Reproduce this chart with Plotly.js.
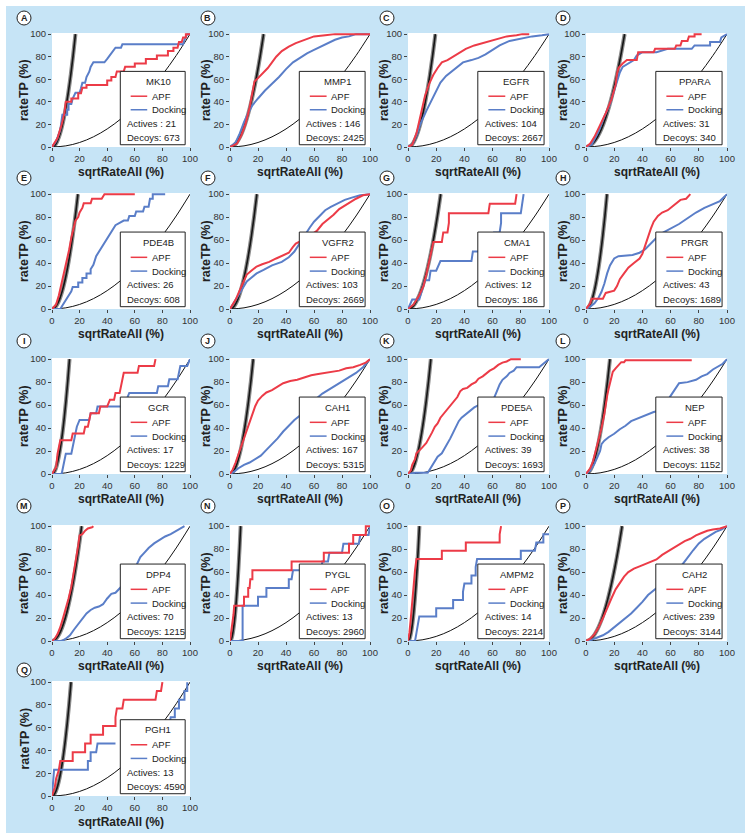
<!DOCTYPE html>
<html><head><meta charset="utf-8">
<script src="https://cdn.plot.ly/plotly-3.0.1.min.js"></script>
<style>html,body{margin:0;padding:0;background:#fff}#chart{width:751px;height:839px}</style>
</head><body><div id="chart"></div>
<script>
// ---------- data ----------
const letters = ['A','B','C','D','E','F','G','H','I','J','K','L','M','N','O','P','Q'];
const targets = ['MK10','MMP1','EGFR','PPARA','PDE4B','VGFR2','CMA1','PRGR','GCR','CAH1','PDE5A','NEP','DPP4','PYGL','AMPM2','CAH2','PGH1'];
const actives = [21,146,104,31,26,103,12,43,17,167,39,38,70,13,14,239,13];
const decoys = [673,2425,2667,340,608,2669,186,1689,1229,5315,1693,1152,1215,2960,2214,3144,4590];
const activesPrefix = ['Actives : ','Actives : ','Actives: ','Actives: ','Actives: ','Actives: ','Actives: ','Actives: ','Actives: ','Actives: ','Actives: ','Actives: ','Actives: ','Actives: ','Actives: ','Actives: ','Actives: '];
const xTicks = [0,20,40,60,80,100];
const yTicks = [0,20,40,60,80,100];
// x where the ideal (thick black) curve reaches 100 %
const idealEnd = [17,24,19.4,27.4,18.8,19.2,23.2,14.9,12.7,16.6,16.2,17,21.5,7.6,8.1,25.6,13.8];
const idealProfileX = [0,0.1,0.2,0.3,0.4,0.5,0.6,0.7,0.8,0.9,1];
const idealProfileY = [0,1,4,9,16,25,36,49,64,81,100];
const randX = [0,10,20,30,40,50,60,70,80,90,100];
const randY = [0,1,4,9,16,25,36,49,64,81,100];

const apfA = [[0,0],[4,8],[7,20],[9,30],[10,40],[14,40],[14,43],[19,43],[19,47.6],[21,47.6],[22,52.4],[25,52.4],[25,55],[40,55],[40,59],[43,59],[43,62],[46,62],[47,67],[52,67],[53,71],[60,71],[60,74],[68,74],[68,78],[76,78],[76,81],[84,81],[84,85],[88,85],[88,88],[91,88],[92,93],[94,93],[95,97],[97,97],[97,100],[100,100]];
const dockA = [[0,0],[3,5],[6,15],[7,25],[7.5,28.6],[11,28.6],[11,33],[12,33],[12,38],[14,38],[15,43],[17,48],[20,48],[21,52],[22,57],[24,57],[25,62],[27,66.7],[28,71],[30,75],[38,75],[40,78],[42,81],[44,85],[46,88],[50,88],[51,91],[95,91],[96,95],[98,100],[100,100]];
const apfB = [[0,0],[5,3],[8,10],[11,20],[14,35],[16,48],[17.5,58],[20,61],[23,65],[27,70],[30,75],[33,80],[37,85],[42,89],[47,92],[53,95],[60,98],[68,99],[75,100],[100,100]];
const dockB = [[0,0],[4,4],[7,12],[10,22],[13,30],[16,37],[20,43],[25,50],[30,56],[35,62],[40,69],[45,75],[50,79],[55,83],[60,86],[65,89],[70,92],[75,95],[80,97],[85,98],[90,100],[100,100]];
const apfC = [[0,0],[3,2],[6,12],[9,28],[12,45],[15,56],[18,64],[21,70],[24,75],[28,77],[32,80],[36,83],[41,87],[47,90],[53,92],[58,94],[64,96],[70,98],[77,99],[81,100],[86,100]];
const dockC = [[0,0],[3,2],[6,10],[9,21],[13,32],[17,42],[20,50],[23,57],[27,63],[31,67],[35,71],[39,75],[45,77],[50,79],[55,82],[60,86],[65,90],[72,94],[80,96],[88,98],[95,99],[100,100]];
const apfD = [[0,0],[3,3],[6,9],[10,19],[14,30],[18,42],[21,55],[22,65],[23,70],[26,74],[29,77],[36,77],[37,84],[48,84],[49,87],[63,87],[64,90],[67,90],[68,94],[72,94],[73,98],[77,98],[77,100],[82,100]];
const dockD = [[0,0],[4,2],[9,14],[13,27],[17,38],[20,50],[22,59],[24,66],[26,71],[30,74],[34,77],[36,81],[40,84],[50,84],[58,87],[75,87],[77,90],[88,90],[88,93],[95,93],[96,97],[100,100]];
const apfE = [[0,0],[3,4],[5,12],[7,23],[9,31],[11,42],[12.5,52],[14,62],[15,68],[17,77],[19,80],[20,84],[22,88],[23,92],[28,92],[29,96],[36,96],[38,100],[60,100]];
const dockE = [[0,0],[6,0],[8,4],[10,7.7],[12,11.5],[14,15.4],[15,19.2],[19,19.2],[19,23],[22,23],[22,27],[25,27],[25,31],[28,31],[28,34.6],[30,38.5],[32,46],[34,50],[36,54],[38,58],[40,62],[42,66],[44,69],[46,73],[52,77],[55,77],[56,81],[60,81],[61,85],[66,85],[67,89],[70,89],[71,96],[73,96],[73,100],[82,100]];
const apfF = [[0,0],[4,8],[9,22],[12,30],[15,33],[19,37],[23,39],[28,41],[33,44],[38,47],[42,49],[45,54],[47,57],[55,62],[62,68],[66,74],[70,78],[74,82],[78,87],[82,90],[86,93],[90,96],[95,99],[100,100]];
const dockF = [[0,0],[4,8],[9,19],[12,24],[15,27],[19,31],[24,34],[30,38],[37,41],[42,45],[46,50],[50,58],[54,65],[57,71],[60,76],[64,81],[68,86],[72,89],[77,92],[82,95],[87,97],[93,99],[100,100]];
const apfG = [[0,0],[4,4],[8,12],[11,20],[13,30],[15,42],[17,52],[18,58.3],[24,58.3],[25,66.7],[28,66.7],[29,75],[29,83.3],[57,83.3],[58,91.7],[76,91.7],[77,100]];
const dockG = [[0,0],[3,8.3],[8,8.3],[10,16.7],[12,25],[15,25],[16,33.3],[20,33.3],[23,41.7],[45,41.7],[46,50],[52,50],[53,58.3],[60,58.3],[61,66.7],[65,66.7],[66,75],[66,83.3],[80,83.3],[81,91.7],[82,100]];
const apfH = [[0,0],[3,5],[4,9],[12,9],[14,14],[20,16],[22,20],[24,26],[27,31],[30,36],[34,40],[38,44],[40,48],[42,56],[44,63],[46,70],[48,76],[51,81],[54,84],[58,86],[61,89],[64,92],[67,95],[71,96],[74,100]];
const dockH = [[0,0],[3,2],[6,5],[9,10],[11,15],[13,22],[15,31],[17,38],[20,44],[23,46],[33,47],[38,49],[42,52],[46,57],[50,62],[54,66],[60,70],[66,74],[72,79],[78,84],[84,88],[90,91],[95,94],[100,100]];
const apfI = [[0,0],[3,5.9],[4,17.6],[5,23.5],[6,29.4],[14,29.4],[15,35.3],[23,35.3],[24,41.2],[26,41.2],[27,47.1],[28,52.9],[34,52.9],[35,58.8],[40,58.8],[42,64.7],[45,64.7],[46,70.6],[49,70.6],[50,76.5],[51,82.4],[52,88.2],[62,88.2],[63,94.1],[74,94.1],[75,100]];
const dockI = [[0,0],[7,0],[8,5.9],[9,11.8],[10,17.6],[14,17.6],[15,23.5],[16,29.4],[17,35.3],[18,41.2],[20,47.1],[27,47.1],[28,52.9],[32,52.9],[33,58.8],[53,58.8],[54,64.7],[56,70.6],[76,70.6],[77,76.5],[84,76.5],[85,82.4],[91,82.4],[92,88.2],[93,94.1],[98,94.1],[100,100]];
const apfJ = [[0,0],[2,4],[4,10],[6,17],[8,24],[10,31],[12,38],[14,45],[16,52],[18,59],[20,64],[23,68],[26,71],[30,73],[34,76],[38,79],[43,81],[48,82],[53,84],[58,86],[63,87],[68,88],[73,89],[78,90],[83,92],[88,93],[93,95],[97,97],[100,100]];
const dockJ = [[0,0],[3,2],[6,5],[10,8],[14,10],[18,13],[22,16],[26,21],[30,26],[34,31],[38,37],[42,42],[46,47],[50,51],[54,56],[58,61],[62,66],[66,70],[70,73],[75,76],[80,80],[85,84],[90,88],[95,93],[100,100]];
const apfK = [[0,0],[2,3],[3,8],[5,13],[6,18],[8,21],[10,23],[13,27],[15,31],[17,36],[19,41],[21,44],[23,49],[25,52],[27,54],[29,58],[31,60],[33,63],[35,67],[37,72],[39,74],[42,75],[45,78],[48,80],[50,83],[53,85],[55,87],[58,90],[61,92],[64,95],[67,97],[70,98],[73,100],[80,100]];
const dockK = [[0,0],[5,1],[14,1],[15,3],[17,8],[19,12],[21,15],[24,18],[26,22],[28,26],[30,31],[32,36],[34,41],[36,46],[38,49],[41,52],[44,55],[47,58],[50,60],[54,61],[58,63],[61,66],[63,72],[65,78],[67,82],[70,85],[72,88],[75,90],[77,93],[93,93],[96,96],[100,100]];
const apfL = [[0,0],[3,5],[5,11],[7,20],[9,29],[11,40],[13,52],[14,62],[15,68],[16,74],[17,79],[18,84],[19,89],[21,92],[23,95],[25,97.4],[27,97.4],[28,99],[75,99]];
const dockL = [[0,0],[3,3],[6,9],[8,14],[10,20],[11,26],[13,29],[16,32],[20,35],[24,39],[28,42],[32,46],[36,48],[40,50],[44,52],[48,54],[52,55],[56,60],[60,68],[63,74],[66,79],[72,80],[78,82],[82,85],[86,87],[90,91],[94,94],[97,96],[100,100]];
const apfM = [[0,0],[2,2],[4,6],[6,12],[8,20],[10,28],[12,37],[14,47],[16,60],[18,74],[19,83],[20,92],[22,93],[24,96],[26,98],[29,99],[30,100]];
const dockM = [[0,0],[7,0],[10,2],[13,5],[16,10],[19,15],[22,20],[25,24],[28,27],[31,29],[34,30],[37,32],[40,37],[43,41],[46,42],[50,47],[54,52],[58,58],[61,66],[64,73],[67,77],[70,81],[74,85],[78,88],[82,91],[86,93],[90,96],[94,99],[96,100]];
const apfN = [[0,0],[1,7.7],[2,15.4],[2.5,23.1],[3,30.8],[10,30.8],[10,38.5],[13,38.5],[13,46.2],[14,46.2],[14.5,53.8],[16,53.8],[16,61.5],[44,61.5],[44,69.2],[67,69.2],[67,76.9],[85,76.9],[85,84.6],[88,84.6],[88,92.3],[97,92.3],[97,100],[100,100]];
const dockN = [[0,0],[9,0],[9,30.8],[20,30.8],[20,38.5],[26,38.5],[26,46.2],[42,46.2],[42,53.8],[44,53.8],[45,61.5],[65,61.5],[66,69.2],[70,69.2],[71,76.9],[80,76.9],[81,84.6],[92,84.6],[93,92.3],[99,92.3],[100,100]];
const apfO = [[0,0],[1,7],[2,20],[3,35],[4,50],[5,62],[6,71.4],[24,71.4],[24,78.6],[41,78.6],[41,85.7],[65,85.7],[65,92.9],[66,100]];
const dockO = [[0,0],[5,0],[6,7.1],[7,14.3],[8,21.4],[20,21.4],[20,28.6],[32,28.6],[32,35.7],[39,35.7],[39,42.9],[40,50],[45,50],[45,57.1],[48,57.1],[48,64.3],[49,71.4],[80,71.4],[80,78.6],[90,78.6],[91,85.7],[96,85.7],[96,92.9],[100,92.9]];
const apfP = [[0,0],[3,2],[6,6],[9,12],[12,20],[15,29],[18,37],[21,45],[24,51],[27,56],[30,60],[34,63],[38,65],[42,67],[46,69],[50,71],[54,75],[58,78],[62,81],[66,84],[70,87],[74,89],[78,92],[82,94],[86,96],[90,97],[95,98],[100,100]];
const dockP = [[0,0],[4,1],[8,3],[12,5],[16,8],[20,12],[24,16],[28,20],[32,24],[36,29],[40,34],[44,40],[48,44],[52,48],[56,52],[60,57],[64,62],[68,66],[72,73],[76,79],[80,85],[84,89],[88,92],[92,95],[96,97],[100,100]];
const apfQ = [[0,0],[2,7.7],[3,15.4],[5,23.1],[6,30.8],[15,30.8],[15,38.5],[24,38.5],[24,46.2],[28,46.2],[28,53.8],[37,53.8],[37,61.5],[46,61.5],[46,69.2],[47,76.9],[51,76.9],[52,84.6],[75,84.6],[76,92.3],[79,92.3],[80,100]];
const dockQ = [[0,0],[1,15],[1.5,23.1],[26,23.1],[26,30.8],[28,30.8],[28,38.5],[32,38.5],[33,46.2],[46,46.2],[null,null],[85,61.5],[86,69.2],[89,69.2],[89,76.9],[92,76.9],[92,84.6],[96,84.6],[96,92.3],[98,92.3],[98,100]];

const apfSeries = [apfA,apfB,apfC,apfD,apfE,apfF,apfG,apfH,apfI,apfJ,apfK,apfL,apfM,apfN,apfO,apfP,apfQ];
const dockSeries = [dockA,dockB,dockC,dockD,dockE,dockF,dockG,dockH,dockI,dockJ,dockK,dockL,dockM,dockN,dockO,dockP,dockQ];

// ---------- layout geometry (pixels) ----------
const W = 751, H = 839;
const colL = [52,230,408,586], colR = [190,370,549,727];
const rowT = [33,193,358,525,681], rowB = [147,309,474,641,796];
const circX = [24,208,387,563], circY = [18,178,341,506,670];
const yTitleX = [24,206,384,563];
const xTitleY = [172,334,499,666,822];
const FONT = '"Liberation Sans", Arial, Helvetica, sans-serif';
const RED = '#ec3b47', BLUE = '#5a7ec8', TXT = '#222';

const traces = [], shapes = [], annotations = [];
const layout = {
  width: W, height: H, margin: {l:0,r:0,t:0,b:0},
  paper_bgcolor: '#ffffff', plot_bgcolor: 'rgba(0,0,0,0)',
  showlegend: false, font: {family: FONT, color: TXT}
};
shapes.push({type:'rect', xref:'paper', yref:'paper', x0:6/W, x1:745/W, y0:1-833/H, y1:1-6/H,
  fillcolor:'#c6e4f6', line:{width:0}, layer:'below'});

const px = v => v / W, py = v => 1 - v / H;

letters.forEach((L, i) => {
  const n = i + 1, r = Math.floor(i / 4), c = i % 4;
  const xs = n === 1 ? 'x' : 'x' + n, ys = n === 1 ? 'y' : 'y' + n;
  const xk = n === 1 ? 'xaxis' : 'xaxis' + n, yk = n === 1 ? 'yaxis' : 'yaxis' + n;
  const axCommon = {ticks:'outside', ticklen:3, tickwidth:1, tickcolor:'#444', showgrid:false, zeroline:false,
    showline:false, tickfont:{family:FONT, size:9.5, color:'#333'}, fixedrange:true};
  layout[xk] = Object.assign({}, axCommon, {domain:[px(colL[c]), px(colR[c])], anchor:ys, range:[0,100], tickvals:xTicks});
  layout[yk] = Object.assign({}, axCommon, {domain:[py(rowB[r]), py(rowT[r])], anchor:xs, range:[0,101], tickvals:yTicks});

  // white plotting area
  shapes.push({type:'rect', xref:'paper', yref:'paper', x0:px(colL[c]), x1:px(colR[c]), y0:py(rowB[r]), y1:py(rowT[r]),
    fillcolor:'#ffffff', line:{width:0}, layer:'below'});

  // ideal curve
  const ix = idealProfileX.map(p => p * idealEnd[i]);
  traces.push({x:ix, y:idealProfileY, xaxis:xs, yaxis:ys, mode:'lines', line:{color:'#8a8a8a', width:4, shape:'spline'}, hoverinfo:'skip'});
  traces.push({x:ix, y:idealProfileY, xaxis:xs, yaxis:ys, mode:'lines', line:{color:'#151515', width:1.6, shape:'spline'}, hoverinfo:'skip'});
  // random curve
  traces.push({x:randX, y:randY, xaxis:xs, yaxis:ys, mode:'lines', line:{color:'#111', width:1, shape:'spline'}, hoverinfo:'skip'});
  // docking and APF
  const d = dockSeries[i], a = apfSeries[i];
  traces.push({x:d.map(p=>p[0]), y:d.map(p=>p[1]), xaxis:xs, yaxis:ys, mode:'lines', connectgaps:false,
    line:{color:BLUE, width:2}, hoverinfo:'skip'});
  traces.push({x:a.map(p=>p[0]), y:a.map(p=>p[1]), xaxis:xs, yaxis:ys, mode:'lines',
    line:{color:RED, width:2}, hoverinfo:'skip'});

  // legend box
  shapes.push({type:'rect', xref:xs, yref:ys, x0:49.5, x1:96.5, y0:2, y1:67, fillcolor:'#ffffff',
    line:{color:'#222', width:1}, layer:'above'});
  shapes.push({type:'line', xref:xs, yref:ys, x0:57, x1:69, y0:45, y1:45, line:{color:RED, width:1.5}, layer:'above'});
  shapes.push({type:'line', xref:xs, yref:ys, x0:57, x1:69, y0:33, y1:33, line:{color:BLUE, width:1.5}, layer:'above'});
  const tf = {family:FONT, size:9.5, color:TXT};
  annotations.push({xref:xs, yref:ys, x:77, y:58, text:targets[i], showarrow:false, xanchor:'center', yanchor:'middle', font:tf});
  annotations.push({xref:xs, yref:ys, x:71, y:45, text:'APF', showarrow:false, xanchor:'left', yanchor:'middle', font:tf});
  annotations.push({xref:xs, yref:ys, x:71, y:33, text:'Docking', showarrow:false, xanchor:'left', yanchor:'middle', font:tf});
  annotations.push({xref:xs, yref:ys, x:53, y:21, text:activesPrefix[i] + actives[i], showarrow:false, xanchor:'left', yanchor:'middle', font:tf});
  annotations.push({xref:xs, yref:ys, x:53, y:8, text:'Decoys: ' + decoys[i], showarrow:false, xanchor:'left', yanchor:'middle', font:tf});

  // axis titles
  annotations.push({xref:'paper', yref:'paper', x:px((colL[c]+colR[c])/2), y:py(xTitleY[r]), text:'<b>sqrtRateAll (%)</b>',
    showarrow:false, xanchor:'center', yanchor:'middle', font:{family:FONT, size:12, color:TXT}});
  annotations.push({xref:'paper', yref:'paper', x:px(yTitleX[c]), y:py((rowT[r]+rowB[r])/2), text:'<b>rateTP (%)</b>',
    showarrow:false, xanchor:'center', yanchor:'middle', textangle:-90, font:{family:FONT, size:12.5, color:TXT}});

  // panel letter in circle
  shapes.push({type:'circle', xref:'paper', yref:'paper', x0:px(circX[c]-7), x1:px(circX[c]+7), y0:py(circY[r]+7), y1:py(circY[r]-7),
    fillcolor:'#ffffff', line:{color:'#222', width:1}, layer:'above'});
  annotations.push({xref:'paper', yref:'paper', x:px(circX[c]), y:py(circY[r]), text:'<b>'+L+'</b>', showarrow:false,
    xanchor:'center', yanchor:'middle', font:{family:FONT, size:9, color:TXT}});
});

layout.shapes = shapes;
layout.annotations = annotations;
Plotly.newPlot('chart', traces.map(t => Object.assign({showlegend:false}, t)), layout, {displayModeBar:false, staticPlot:true});
</script></body></html>
